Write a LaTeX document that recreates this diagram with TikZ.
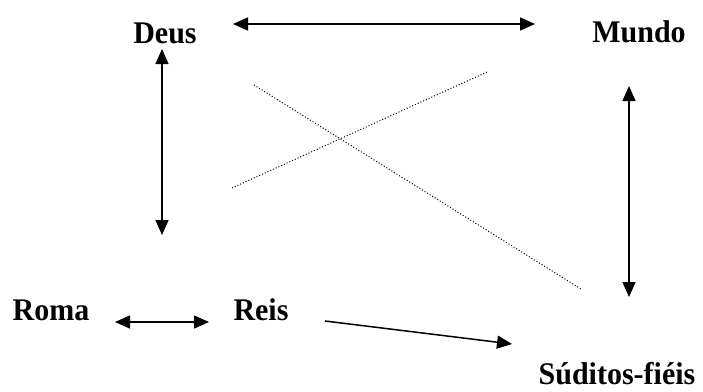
\documentclass[tikz,border=0pt]{standalone}
\usepackage{fontspec}
\setmainfont{Liberation Serif}
\usetikzlibrary{arrows.meta}
\newcommand{\tallbox}[1]{\scalebox{1}[1.05]{#1}}
\begin{document}
\begin{tikzpicture}[x=1pt,y=-1pt,
  lbl/.style={font=\fontsize{30}{30}\selectfont\bfseries, inner sep=0pt, anchor=base},
  arr/.style={line width=1.5pt, -{Triangle[length=15pt,width=13pt]}},
  darr/.style={line width=1.5pt, {Triangle[length=15pt,width=13pt]}-{Triangle[length=15pt,width=13pt]}},
  dotln/.style={line width=1pt, dash pattern=on 1pt off 2pt}]
\useasboundingbox (0,0) rectangle (703,391);
\node[lbl] (deus) at (165,43) {\tallbox{Deus}};
\node[lbl] (mundo) at (639,42) {\tallbox{Mundo}};
\node[lbl] (roma) at (51,320) {\tallbox{Roma}};
\node[lbl] (reis) at (261,320) {\tallbox{Reis}};
\node[lbl] (sud) at (617,384) {\tallbox{Súditos-fiéis}};
% arrow end points
\coordinate (dmA) at (233,24);
\coordinate (dmB) at (535,24);
\coordinate (dvA) at (162,49);
\coordinate (dvB) at (162,235);
\coordinate (mvA) at (629,86);
\coordinate (mvB) at (629,297);
\coordinate (rrA) at (115,322);
\coordinate (rrB) at (209,322);
\coordinate (rsA) at (325,321);
\coordinate (rsB) at (512,344);
\coordinate (d1A) at (232,188);
\coordinate (d1B) at (487,72);
\coordinate (d2A) at (254,85);
\coordinate (d2B) at (581,289);
\draw[darr] (dmA) -- (dmB);
\draw[darr] (dvA) -- (dvB);
\draw[darr] (mvA) -- (mvB);
\draw[darr] (rrA) -- (rrB);
\draw[arr] (rsA) -- (rsB);
\draw[dotln] (d1A) -- (d1B);
\draw[dotln] (d2A) -- (d2B);
\end{tikzpicture}
\end{document}
